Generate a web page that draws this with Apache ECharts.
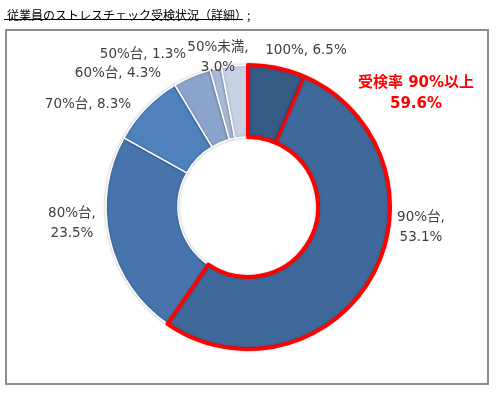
<!DOCTYPE html>
<html>
<head>
<meta charset="utf-8">
<script src="https://cdn.jsdelivr.net/npm/echarts@6/dist/echarts.min.js"></script>
<style>
  html, body { margin: 0; padding: 0; background: #fff; }
  #chart { width: 504px; height: 396px; }
</style>
</head>
<body>
<div id="chart"></div>
<script>
// 受検状況の内訳
var categories = ['100%', '90%台', '80%台', '70%台', '60%台', '50%台', '50%未満']
var shares = [6.5, 53.1, 23.5, 8.3, 4.3, 1.3, 3.0]
var wrapLabel = [false, true, true, false, false, false, true]
// 90%以上 vs その他
var groupNames = ['受検率 90%以上', 'その他']
var groupShares = [59.6, 40.4]

var sliceColors = ['#375b87', '#3f689b', '#4774ad', '#4f81bd', '#8aa4cb', '#a9bad7', '#c6d1e4']
var redEdge = [true, true, false, false, false, false, false]
// label centres (x, y)
var labelPos = [[306, 50], [421, 227], [72, 223], [88, 104], [118, 73], [143, 54], [218, 57]]

var chart = echarts.init(document.getElementById('chart'))

var font = 'DejaVu Sans, "Noto Sans CJK JP", sans-serif'

chart.setOption({
  animation: false,
  title: {
    text: '従業員のストレスチェック受検状況（詳細）;',
    left: 2,
    top: 4,
    textStyle: {
      fontFamily: '"Noto Sans CJK JP", sans-serif',
      fontSize: 12,
      fontWeight: 'normal',
      color: '#000'
    }
  },
  graphic: [
    {
      type: 'line',
      shape: { x1: 4, y1: 19.5, x2: 243, y2: 19.5 },
      style: { stroke: '#000', lineWidth: 1 }
    },
    {
      type: 'rect',
      shape: { x: 6, y: 30, width: 482, height: 354 },
      style: { fill: 'none', stroke: '#8c8c8c', lineWidth: 2 }
    }
  ],
  series: [
    {
      type: 'pie',
      center: [248, 207],
      radius: [70, 142],
      startAngle: 90,
      clockwise: true,
      avoidLabelOverlap: false,
      itemStyle: {
        borderColor: '#fff',
        borderWidth: 1.5,
        shadowColor: 'rgba(0,0,0,0.25)',
        shadowBlur: 3
      },
      label: {
        show: true,
        position: 'outside',
        overflow: 'none',
        fontFamily: font,
        fontSize: 13.5,
        color: '#404040',
        lineHeight: 20,
        align: 'center',
        formatter: function (p) {
          var i = p.dataIndex
          return p.name + ',' + (wrapLabel[i] ? '\n' : ' ') + p.value.toFixed(1) + '%'
        }
      },
      labelLine: { show: false },
      labelLayout: function (p) {
        var pos = labelPos[p.dataIndex]
        return { x: pos[0], y: pos[1], align: 'center', verticalAlign: 'middle' }
      },
      data: categories.map(function (c, i) {
        var style = { color: sliceColors[i] }
        if (redEdge[i]) {
          style.borderColor = '#ff0000'
          style.borderWidth = 3
        }
        return { name: c, value: shares[i], itemStyle: style }
      })
    },
    {
      type: 'pie',
      center: [248, 207],
      radius: [70, 142],
      startAngle: 90,
      clockwise: true,
      silent: true,
      z: 3,
      label: {
        show: true,
        position: 'outside',
        overflow: 'none',
        fontFamily: font,
        fontSize: 15,
        fontWeight: 'bold',
        color: '#ff0000',
        lineHeight: 21,
        align: 'center',
        formatter: function (p) {
          return p.dataIndex === 0 ? p.name + '\n' + p.value.toFixed(1) + '%' : ''
        }
      },
      labelLine: { show: false },
      labelLayout: function (p) {
        return { x: 416, y: 94, align: 'center', verticalAlign: 'middle' }
      },
      data: [
        { name: groupNames[0], value: groupShares[0],
          itemStyle: { color: 'rgba(0,0,0,0)', borderColor: '#ff0000', borderWidth: 4 } },
        { name: groupNames[1], value: groupShares[1],
          itemStyle: { color: 'rgba(0,0,0,0)', borderWidth: 0 } }
      ]
    }
  ]
})
</script>
</body>
</html>
